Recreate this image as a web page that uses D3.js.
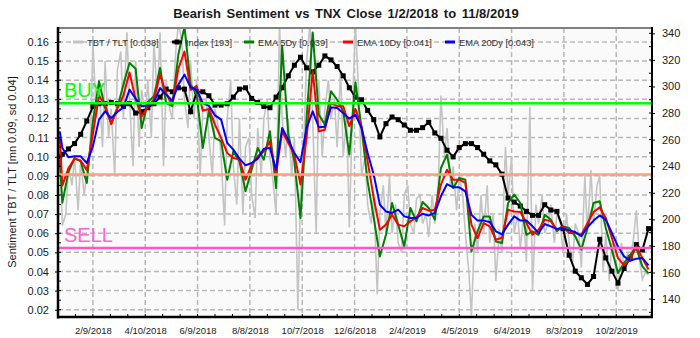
<!DOCTYPE html>
<html>
<head>
<meta charset="utf-8">
<script src="https://cdn.jsdelivr.net/npm/d3@7"></script>
<style>
  body { margin: 0; background: #fff; }
  svg { display: block; font-family: "Liberation Sans", Arial, sans-serif; }
  .tick text { fill: #1a1a1a; }
</style>
</head>
<body>
<svg id="chart" width="700" height="338"></svg>
<script>
// ---- data ----
var fridays = d3.timeFriday.range(new Date(2018, 0, 5), new Date(2019, 10, 9)); // 97 weeks
var weekDates = [new Date(2018, 0, 2)].concat(fridays);
var rawDates = fridays.flatMap(f => [d3.timeDay.offset(f, -3), f]);

var dateTicks = ["2/9/2018", "4/10/2018", "6/9/2018", "8/8/2018", "10/7/2018", "12/6/2018",
  "2/4/2019", "4/5/2019", "6/4/2019", "8/3/2019", "10/2/2019"];
var leftTicks = [0.02, 0.03, 0.04, 0.05, 0.06, 0.07, 0.08, 0.09, 0.10, 0.11, 0.12, 0.13, 0.14, 0.15, 0.16];
var rightTicks = [140, 160, 180, 200, 220, 240, 260, 280, 300, 320, 340];

var buyLevel = 0.128, midLevel = 0.0907, sellLevel = 0.0523;

var tbtTlt = [
  0.105, 0.064, 0.070, 0.095, 0.085, 0.100, 0.072, 0.098, 0.080, 0.092,
  0.105, 0.160, 0.120, 0.140, 0.105, 0.150, 0.110, 0.125, 0.090, 0.145,
  0.155, 0.120, 0.165, 0.130, 0.095, 0.150, 0.105, 0.135, 0.120, 0.140,
  0.110, 0.160, 0.130, 0.165, 0.095, 0.140, 0.125, 0.120, 0.155, 0.170,
  0.160, 0.130, 0.115, 0.150, 0.120, 0.140, 0.090, 0.125, 0.130, 0.110,
  0.090, 0.125, 0.115, 0.100, 0.064, 0.120, 0.140, 0.095, 0.075, 0.120,
  0.070, 0.105, 0.110, 0.080, 0.068, 0.115, 0.090, 0.120, 0.130, 0.100,
  0.085, 0.070, 0.170, 0.120, 0.100, 0.120, 0.090, 0.110, 0.020, 0.080,
  0.110, 0.150, 0.170, 0.120, 0.060, 0.140, 0.100, 0.125, 0.140, 0.120,
  0.130, 0.105, 0.145, 0.100, 0.120, 0.063, 0.130, 0.170, 0.130, 0.090,
  0.100, 0.075, 0.065, 0.080, 0.028, 0.070, 0.085, 0.060, 0.090, 0.060,
  0.075, 0.055, 0.050, 0.080, 0.085, 0.065, 0.060, 0.078, 0.080, 0.065,
  0.070, 0.058, 0.080, 0.065, 0.085, 0.132, 0.100, 0.115, 0.085, 0.095,
  0.072, 0.090, 0.080, 0.060, 0.040, 0.017, 0.065, 0.050, 0.080, 0.060,
  0.085, 0.055, 0.070, 0.035, 0.062, 0.050, 0.105, 0.080, 0.100, 0.060,
  0.070, 0.052, 0.070, 0.045, 0.126, 0.030, 0.075, 0.065, 0.080, 0.060,
  0.065, 0.075, 0.055, 0.070, 0.065, 0.050, 0.070, 0.055, 0.045, 0.065,
  0.060, 0.042, 0.090, 0.060, 0.093, 0.065, 0.085, 0.090, 0.040, 0.060,
  0.035, 0.055, 0.045, 0.030, 0.055, 0.040, 0.050, 0.045, 0.058, 0.072,
  0.045, 0.036, 0.040, 0.038
];

var tnxIndex = [
  247, 249, 253, 257, 264, 274, 285, 287, 287, 288, 287, 285, 287, 280, 281, 284,
  287, 292, 298, 296, 299, 298, 281, 296, 296, 293, 286, 286, 287, 292, 298, 299,
  291, 288, 285, 284, 292, 299, 308, 316, 322, 314, 311, 316, 323, 320, 315, 308,
  299, 292, 290, 282, 275, 262, 272, 277, 275, 271, 267, 267, 269, 273, 265, 261,
  252, 247, 254, 257, 257, 254, 249, 244, 241, 234, 216, 213, 210, 206, 203, 203,
  211, 207, 206, 193, 173, 161, 156, 151, 157, 185, 171, 161, 152, 163, 171, 181,
  177, 193
];

var ema5 = [
  0.0985, 0.076, 0.092, 0.0993, 0.0976, 0.0863, 0.1185, 0.1394, 0.1255, 0.1176,
  0.1255, 0.1377, 0.149, 0.146, 0.115, 0.1286, 0.1316, 0.1464, 0.1281, 0.1264,
  0.1534, 0.168, 0.1377, 0.1325, 0.1046, 0.124, 0.1098, 0.108, 0.088, 0.1028,
  0.0976, 0.0819, 0.0932, 0.1046, 0.0985, 0.1133, 0.0836, 0.158, 0.1115, 0.0976,
  0.068, 0.1203, 0.165, 0.122, 0.1168, 0.1342, 0.1298, 0.1237, 0.1011, 0.139,
  0.115, 0.0871, 0.068, 0.0479, 0.0592, 0.0758, 0.0645, 0.0531, 0.0732, 0.0662,
  0.0763, 0.0732, 0.0671, 0.0941, 0.1011, 0.0836, 0.0889, 0.088, 0.0505, 0.061,
  0.0688, 0.0688, 0.0557, 0.0549, 0.0758, 0.0802, 0.0758, 0.0592, 0.061, 0.0592,
  0.0697, 0.0671, 0.061, 0.0636, 0.0627, 0.0584, 0.0514, 0.0627, 0.0758, 0.0767,
  0.0627, 0.0514, 0.0392, 0.0444, 0.0488, 0.0523, 0.0427, 0.039
];

var ema10 = [
  0.1105, 0.085, 0.094, 0.099, 0.098, 0.093, 0.112, 0.132, 0.127, 0.117,
  0.125, 0.132, 0.144, 0.130, 0.121, 0.126, 0.130, 0.143, 0.133, 0.127,
  0.146, 0.155, 0.135, 0.137, 0.124, 0.125, 0.1168, 0.1098, 0.1019, 0.0993,
  0.0985, 0.0880, 0.0958, 0.1002, 0.1028, 0.1080, 0.0906, 0.1133, 0.1072, 0.1011,
  0.0854, 0.1098, 0.1447, 0.1133, 0.1141, 0.1281, 0.1264, 0.1264, 0.1159, 0.125,
  0.1159, 0.0976, 0.0784, 0.0618, 0.0645, 0.0697, 0.0645, 0.0636, 0.0662, 0.0683,
  0.0732, 0.0718, 0.0723, 0.0854, 0.0932, 0.0880, 0.0880, 0.0863, 0.0645, 0.0575,
  0.0653, 0.0636, 0.0566, 0.0577, 0.0723, 0.0714, 0.0711, 0.0653, 0.0592, 0.0618,
  0.0671, 0.0662, 0.0618, 0.0636, 0.0601, 0.0601, 0.0592, 0.0653, 0.0711, 0.0735,
  0.0680, 0.0575, 0.0470, 0.0432, 0.0462, 0.0531, 0.0470, 0.041
];

var ema20 = [
  0.1133, 0.1046, 0.0997, 0.1002, 0.1002, 0.0967, 0.1054, 0.1194, 0.1237, 0.1202,
  0.1234, 0.1258, 0.1351, 0.1304, 0.1264, 0.1269, 0.1286, 0.1359, 0.1325, 0.1293,
  0.1377, 0.1429, 0.1363, 0.1351, 0.1281, 0.1266, 0.1216, 0.1194, 0.1072, 0.1037,
  0.0990, 0.0955, 0.0967, 0.0990, 0.1042, 0.1046, 0.0932, 0.1150, 0.1089, 0.1019,
  0.0972, 0.1150, 0.1237, 0.1154, 0.1157, 0.1258, 0.1255, 0.1229, 0.1199, 0.122,
  0.1150, 0.1019, 0.0906, 0.0749, 0.0714, 0.0706, 0.0723, 0.0688, 0.0680, 0.0680,
  0.0702, 0.0693, 0.0706, 0.0793, 0.0857, 0.0840, 0.0840, 0.0819, 0.0697, 0.0666,
  0.0666, 0.0659, 0.0610, 0.0594, 0.0645, 0.0688, 0.0666, 0.0667, 0.0636, 0.0601,
  0.0648, 0.0636, 0.0622, 0.0627, 0.0615, 0.0606, 0.0584, 0.0631, 0.0666, 0.0693,
  0.0671, 0.0601, 0.0531, 0.0479, 0.0456, 0.0467, 0.0470, 0.0432
];

// ---- layout ----
var svg = d3.select('#chart');
var pLeft = 58, pRight = 652, pTop = 28, pBottom = 317;
var parseDate = d3.timeParse('%m/%d/%Y');

var x = d3.scaleTime()
  .domain([new Date(2017, 11, 31), new Date(2019, 10, 12)])
  .range([pLeft, pRight]);
var yL = d3.scaleLinear().domain([0.0162, 0.1673]).range([pBottom, pTop]);
var yR = d3.scaleLinear().domain([126.5, 344]).range([pBottom, pTop]);

svg.append('rect').attr('width', 700).attr('height', 338).attr('fill', '#ffffff');
svg.append('rect')
  .attr('x', pLeft).attr('y', pTop)
  .attr('width', pRight - pLeft).attr('height', pBottom - pTop)
  .attr('fill', '#fafafa');

svg.append('clipPath').attr('id', 'plot')
  .append('rect')
  .attr('x', pLeft).attr('y', pTop)
  .attr('width', pRight - pLeft).attr('height', pBottom - pTop);

// title
svg.append('text')
  .attr('x', 346).attr('y', 18)
  .attr('text-anchor', 'middle')
  .attr('font-size', 13).attr('font-weight', 'bold')
  .attr('word-spacing', 2)
  .attr('fill', '#1a1a1a')
  .text('Bearish Sentiment vs TNX Close 1/2/2018 to 11/8/2019');

// grid
var grid = svg.append('g').attr('stroke', '#b8b8b8').attr('stroke-width', 1.5)
  .attr('stroke-dasharray', '5,3');
grid.selectAll('.hg').data(leftTicks).enter().append('line')
  .attr('x1', pLeft).attr('x2', pRight)
  .attr('y1', d => yL(d)).attr('y2', d => yL(d));
grid.selectAll('.vg').data(dateTicks).enter().append('line')
  .attr('x1', d => x(parseDate(d))).attr('x2', d => x(parseDate(d)))
  .attr('y1', pTop).attr('y2', pBottom);

// series
var plot = svg.append('g').attr('clip-path', 'url(#plot)');

var lineL = (dates) => d3.line().x((d, i) => x(dates[i])).y(d => yL(d));

plot.append('path').datum(tbtTlt)
  .attr('d', lineL(rawDates))
  .attr('fill', 'none').attr('stroke', '#c4c4c4').attr('stroke-width', 1.6);

plot.append('path').datum(tnxIndex)
  .attr('d', d3.line().x((d, i) => x(weekDates[i])).y(d => yR(d)))
  .attr('fill', 'none').attr('stroke', '#000').attr('stroke-width', 2);
plot.selectAll('.mk').data(tnxIndex).enter().append('rect')
  .attr('x', (d, i) => x(weekDates[i]) - 2.5)
  .attr('y', d => yR(d) - 2.5)
  .attr('width', 5).attr('height', 5)
  .attr('fill', '#000');

[[ema5, '#008000'], [ema10, '#ff0000'], [ema20, '#0000ff']].forEach(function (s) {
  plot.append('path').datum(s[0])
    .attr('d', lineL(weekDates))
    .attr('fill', 'none').attr('stroke', s[1]).attr('stroke-width', 2)
    .attr('stroke-linejoin', 'round');
});

// buy / sell levels
[[buyLevel, '#00ff00'], [midLevel, '#ffa07a'], [sellLevel, '#ff55c8']].forEach(function (l) {
  svg.append('line')
    .attr('x1', pLeft).attr('x2', pRight)
    .attr('y1', yL(l[0])).attr('y2', yL(l[0]))
    .attr('stroke', l[1]).attr('stroke-width', 2.5);
});
svg.append('text').attr('x', 64).attr('y', 97)
  .attr('font-size', 20).attr('fill', '#00ff00').text('BUY');
svg.append('text').attr('x', 64).attr('y', 242)
  .attr('font-size', 20).attr('fill', '#ff66cc').text('SELL');

// axes
var axL = svg.append('g')
  .attr('transform', `translate(${pLeft},0)`)
  .call(d3.axisLeft(yL).tickValues(leftTicks).tickFormat(d3.format('.2f')).tickSize(3).tickPadding(6));
var axR = svg.append('g')
  .attr('transform', `translate(${pRight},0)`)
  .call(d3.axisRight(yR).tickValues(rightTicks).tickSize(3).tickPadding(7));
var axB = svg.append('g')
  .attr('transform', `translate(0,${pBottom})`)
  .call(d3.axisBottom(x).tickValues(dateTicks.map(parseDate)).tickFormat(d3.timeFormat('%-m/%-d/%Y')).tickSize(0).tickPadding(10));
[axL, axR, axB].forEach(function (a) {
  a.select('.domain').remove();
  a.selectAll('.tick line').attr('stroke', '#000');
});
axL.selectAll('text').attr('font-size', 11).attr('font-family', null);
axR.selectAll('text').attr('font-size', 11).attr('font-family', null);
axB.selectAll('text').attr('font-size', 9.5).attr('font-family', null);

// minor ticks
var minorL = d3.range(0.02, 0.1651, 0.005);
svg.append('g').selectAll('line').data(minorL).enter().append('line')
  .attr('x1', pLeft).attr('x2', pLeft + 3)
  .attr('y1', d => yL(d)).attr('y2', d => yL(d))
  .attr('stroke', '#000');
var minorR = d3.range(130, 345, 10);
svg.append('g').selectAll('line').data(minorR).enter().append('line')
  .attr('x1', pRight - 3).attr('x2', pRight)
  .attr('y1', d => yR(d)).attr('y2', d => yR(d))
  .attr('stroke', '#000');
var minorB = d3.timeDay.range(new Date(2018, 0, 1), new Date(2019, 10, 12), 1)
  .filter(d => Math.round((d - parseDate('2/9/2018')) / 864e5) % 20 === 0);
svg.append('g').selectAll('line').data(minorB).enter().append('line')
  .attr('x1', d => x(d)).attr('x2', d => x(d))
  .attr('y1', pBottom - 3).attr('y2', pBottom)
  .attr('stroke', '#000');

// frame
svg.append('line').attr('x1', pLeft).attr('x2', pRight).attr('y1', pTop).attr('y2', pTop)
  .attr('stroke', '#808080').attr('stroke-width', 2);
svg.append('line').attr('x1', pLeft).attr('x2', pLeft).attr('y1', pTop - 1).attr('y2', pBottom + 1.5)
  .attr('stroke', '#000').attr('stroke-width', 2.5);
svg.append('line').attr('x1', pLeft - 1).attr('x2', pRight + 1).attr('y1', pBottom).attr('y2', pBottom)
  .attr('stroke', '#000').attr('stroke-width', 2.5);
svg.append('line').attr('x1', pRight).attr('x2', pRight).attr('y1', pTop - 1).attr('y2', pBottom + 1)
  .attr('stroke', '#000').attr('stroke-width', 2);

// y label
svg.append('text')
  .attr('transform', 'translate(16,172) rotate(-90)')
  .attr('text-anchor', 'middle')
  .attr('font-size', 11).attr('fill', '#1a1a1a')
  .text('Sentiment TBT / TLT [mn 0.09, sd 0.04]');

// legend
var legendItems = [
  { label: 'TBT / TLT [0.038]', color: '#c4c4c4', x: 73, marker: false },
  { label: 'Index [193]', color: '#000', x: 172, marker: true },
  { label: 'EMA 5Dy [0.039]', color: '#008000', x: 244, marker: false },
  { label: 'EMA 10Dy [0.041]', color: '#ff0000', x: 343, marker: false },
  { label: 'EMA 20Dy [0.043]', color: '#0000ff', x: 445, marker: false }
];
var lg = svg.append('g').selectAll('g').data(legendItems).enter().append('g')
  .attr('transform', d => `translate(${d.x},42)`);
lg.append('line').attr('x1', 0).attr('x2', 10)
  .attr('stroke', d => d.color).attr('stroke-width', 3);
lg.filter(d => d.marker).append('rect')
  .attr('x', 2.5).attr('y', -2.5).attr('width', 5).attr('height', 5).attr('fill', '#000');
lg.append('text').attr('x', 14).attr('y', 3.5)
  .attr('font-size', 9.3).attr('fill', '#333')
  .text(d => d.label);
</script>
</body>
</html>
